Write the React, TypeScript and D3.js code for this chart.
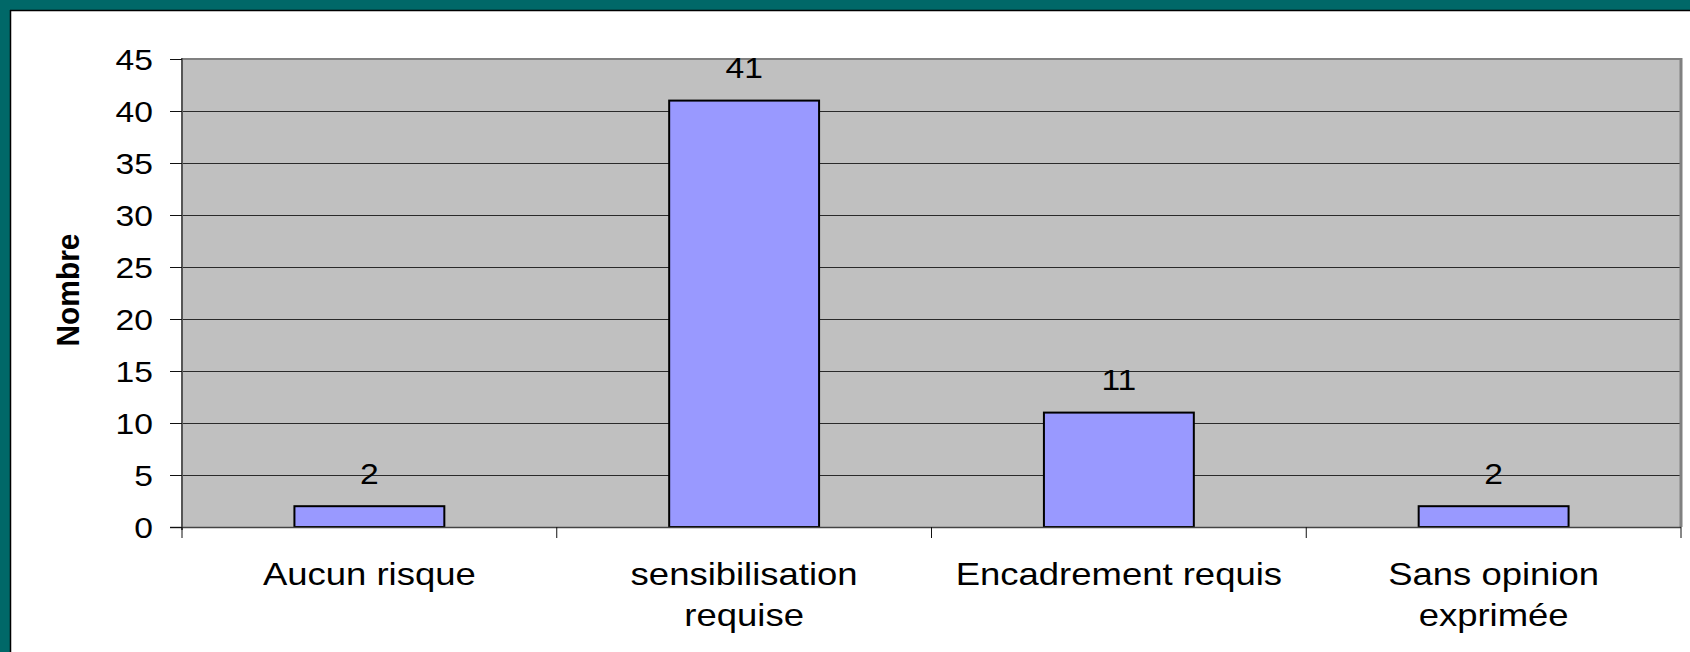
import React from "react";
import * as d3 from "d3";

const categories: string[][] = [
  ["Aucun risque"],
  ["sensibilisation", "requise"],
  ["Encadrement requis"],
  ["Sans opinion", "exprimée"],
];
const values: number[] = [2, 41, 11, 2];
const yTicks: number[] = [0, 5, 10, 15, 20, 25, 30, 35, 40, 45];
const yTitle = "Nombre";

const W = 1690;
const H = 652;
const plot = { left: 182, right: 1681, top: 59, bottom: 527 };
const FONT = "'Liberation Sans', Arial, Helvetica, sans-serif";

export default function App() {
  const keys = categories.map((c) => c.join(" "));
  const x = d3
    .scaleBand<string>()
    .domain(keys)
    .range([plot.left, plot.right])
    .paddingInner(0.6)
    .paddingOuter(0.3);
  const y = d3.scaleLinear().domain([0, 45]).range([plot.bottom, plot.top]);
  const step = x.step();
  const catBounds = d3.range(keys.length + 1).map((i) => plot.left + i * step);

  return (
    <svg
      width={W}
      height={H}
      style={{ position: "absolute", left: 0, top: 0, display: "block" }}
      fontFamily={FONT}
    >
      <rect x={0} y={0} width={W} height={H} fill="#ffffff" />
      {/* teal frame top & left */}
      <rect x={0} y={0} width={W} height={10} fill="#006868" />
      <rect x={0} y={0} width={10} height={H} fill="#006868" />
      <line x1={10} y1={10.5} x2={W} y2={10.5} stroke="#000" strokeWidth={1.5} />
      <line x1={10.5} y1={10} x2={10.5} y2={H} stroke="#000" strokeWidth={1.5} />

      {/* plot area */}
      <rect
        x={plot.left}
        y={y(45)}
        width={plot.right - plot.left}
        height={plot.bottom - y(45)}
        fill="#C0C0C0"
      />
      {/* gridlines */}
      {yTicks
        .filter((t) => t > 0 && t < 45)
        .map((t) => (
          <line
            key={"g" + t}
            x1={plot.left}
            x2={plot.right}
            y1={Math.round(y(t)) + 0.5}
            y2={Math.round(y(t)) + 0.5}
            stroke="#2a2a2a"
            strokeWidth={1}
          />
        ))}
      {/* plot border top/right */}
      <line x1={plot.left} x2={plot.right} y1={y(45)} y2={y(45)} stroke="#808080" strokeWidth={2} />
      <line x1={plot.right} x2={plot.right} y1={y(45) - 1} y2={plot.bottom} stroke="#808080" strokeWidth={3} />

      {/* bars */}
      {values.map((v, i) => (
        <rect
          key={"b" + i}
          x={x(keys[i])!}
          y={y(v)}
          width={x.bandwidth()}
          height={y(0) - y(v)}
          fill="#9999FF"
          stroke="#000"
          strokeWidth={2}
        />
      ))}

      {/* axes */}
      <line x1={plot.left} x2={plot.left} y1={y(45) - 1} y2={plot.bottom + 3} stroke="#555" strokeWidth={2} />
      <line x1={plot.left - 12} x2={plot.right} y1={plot.bottom + 0.5} y2={plot.bottom + 0.5} stroke="#444" strokeWidth={1.5} />
      {yTicks.map((t) => (
        <g key={"yt" + t}>
          <line x1={plot.left - 12} x2={plot.left} y1={Math.round(y(t)) + 0.5} y2={Math.round(y(t)) + 0.5} stroke="#111" strokeWidth={1} />
          <text
            transform={`translate(153,${y(t) + 10.5}) scale(1.16,1)`}
            textAnchor="end"
            fontSize={29}
            fill="#000"
          >
            {t}
          </text>
        </g>
      ))}
      {catBounds.map((b, i) => (
        <line key={"xt" + i} x1={b} x2={b} y1={plot.bottom} y2={plot.bottom + 11} stroke="#111" strokeWidth={1} />
      ))}

      {/* value labels */}
      {values.map((v, i) => (
        <text
          key={"v" + i}
          transform={`translate(${x(keys[i])! + x.bandwidth() / 2},${y(v) - 22.5}) scale(1.16,1)`}
          textAnchor="middle"
          fontSize={29}
          fill="#000"
        >
          {v}
        </text>
      ))}

      {/* category labels */}
      {categories.map((lines, i) =>
        lines.map((ln, j) => (
          <text
            key={"c" + i + "_" + j}
            transform={`translate(${x(keys[i])! + x.bandwidth() / 2},${585 + j * 41}) scale(1.14,1)`}
            textAnchor="middle"
            fontSize={32}
            fill="#000"
          >
            {ln}
          </text>
        ))
      )}

      {/* y title */}
      <text
        transform={`translate(79,290) rotate(-90)`}
        textAnchor="middle"
        fontSize={31}
        fontWeight="bold"
        textLength={113}
        lengthAdjust="spacingAndGlyphs"
        fill="#000"
      >
        {yTitle}
      </text>
    </svg>
  );
}
